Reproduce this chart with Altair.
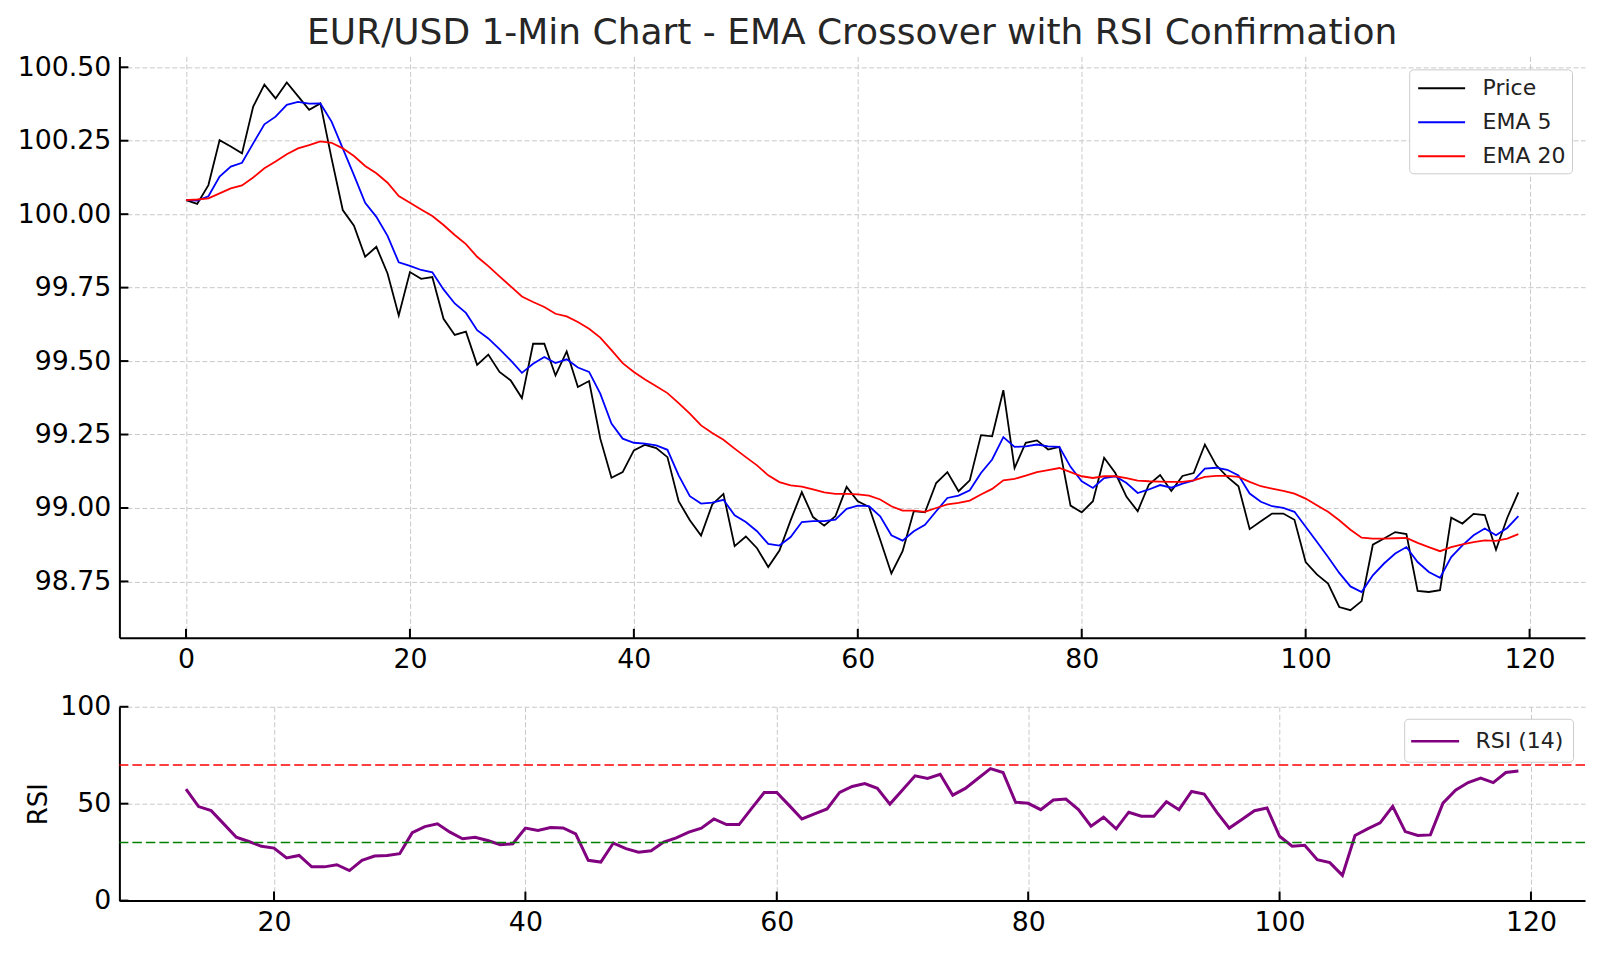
import altair as alt
import pandas as pd

# ---------------- data ----------------
idx = list(range(120))
price = [100.048, 100.035, 100.099, 100.252, 100.230, 100.207, 100.366, 100.441, 100.394, 100.448,
         100.402, 100.355, 100.377, 100.190, 100.014, 99.961, 99.855, 99.889, 99.798, 99.655,
         99.803, 99.780, 99.786, 99.644, 99.589, 99.600, 99.487, 99.522, 99.463, 99.434,
         99.374, 99.559, 99.559, 99.451, 99.533, 99.412, 99.432, 99.236, 99.103, 99.122,
         99.196, 99.215, 99.204, 99.173, 99.023, 98.958, 98.906, 99.012, 99.048, 98.870,
         98.903, 98.863, 98.799, 98.855, 98.958, 99.054, 98.969, 98.940, 98.972, 99.072,
         99.023, 99.004, 98.892, 98.777, 98.853, 98.989, 98.985, 99.085, 99.122, 99.057,
         99.094, 99.248, 99.244, 99.401, 99.136, 99.222, 99.230, 99.199, 99.208, 99.008,
         98.985, 99.023, 99.171, 99.119, 99.038, 98.989, 99.080, 99.112, 99.058, 99.109,
         99.119, 99.216, 99.146, 99.106, 99.074, 98.928, 98.955, 98.981, 98.981, 98.960,
         98.816, 98.774, 98.743, 98.663, 98.652, 98.683, 98.875, 98.896, 98.918, 98.911,
         98.718, 98.714, 98.720, 98.967, 98.947, 98.980, 98.976, 98.858, 98.966, 99.053]
ema5 = [100.048, 100.046, 100.061, 100.128, 100.162, 100.175, 100.241, 100.306, 100.332, 100.372,
        100.382, 100.376, 100.377, 100.315, 100.224, 100.133, 100.039, 99.991, 99.926, 99.836,
        99.824, 99.810, 99.802, 99.744, 99.696, 99.664, 99.605, 99.577, 99.541, 99.502,
        99.460, 99.491, 99.514, 99.493, 99.506, 99.478, 99.463, 99.389, 99.287, 99.236,
        99.222, 99.219, 99.213, 99.198, 99.111, 99.040, 99.015, 99.018, 99.028, 98.975,
        98.952, 98.921, 98.878, 98.872, 98.901, 98.952, 98.955, 98.955, 98.960, 98.997,
        99.008, 99.006, 98.972, 98.907, 98.889, 98.921, 98.943, 98.989, 99.034, 99.042,
        99.060, 99.119, 99.165, 99.241, 99.208, 99.210, 99.216, 99.210, 99.208, 99.140,
        99.091, 99.068, 99.102, 99.108, 99.085, 99.051, 99.063, 99.078, 99.069, 99.083,
        99.094, 99.134, 99.137, 99.130, 99.111, 99.049, 99.021, 99.006, 99.000, 98.987,
        98.936, 98.885, 98.833, 98.779, 98.733, 98.714, 98.771, 98.811, 98.845, 98.867,
        98.816, 98.782, 98.762, 98.833, 98.873, 98.907, 98.930, 98.907, 98.932, 98.972]
ema20 = [100.048, 100.050, 100.054, 100.071, 100.088, 100.098, 100.125, 100.156, 100.179, 100.204,
         100.224, 100.235, 100.248, 100.243, 100.224, 100.198, 100.164, 100.139, 100.107, 100.062,
         100.039, 100.016, 99.994, 99.963, 99.929, 99.898, 99.855, 99.823, 99.788, 99.754,
         99.720, 99.701, 99.684, 99.661, 99.652, 99.633, 99.610, 99.580, 99.537, 99.493,
         99.463, 99.437, 99.414, 99.391, 99.357, 99.321, 99.281, 99.255, 99.232, 99.202,
         99.173, 99.145, 99.111, 99.088, 99.077, 99.073, 99.063, 99.053, 99.048, 99.048,
         99.046, 99.042, 99.029, 99.006, 98.991, 98.991, 98.987, 99.000, 99.012, 99.017,
         99.025, 99.046, 99.065, 99.094, 99.099, 99.110, 99.122, 99.129, 99.136, 99.122,
         99.108, 99.102, 99.108, 99.108, 99.102, 99.093, 99.091, 99.090, 99.089, 99.089,
         99.094, 99.106, 99.109, 99.109, 99.106, 99.089, 99.074, 99.066, 99.058, 99.049,
         99.032, 99.009, 98.987, 98.958, 98.926, 98.899, 98.896, 98.896, 98.897, 98.898,
         98.881, 98.867, 98.853, 98.867, 98.876, 98.884, 98.890, 98.888, 98.896, 98.911]
rsi_idx = list(range(13, 120))
rsi = [57.5, 48.5, 46.4, 39.6, 32.7, 30.5, 28.0, 27.1, 22.0, 23.3,
       17.4, 17.4, 18.5, 15.5, 20.8, 23.0, 23.3, 24.2, 35.0, 38.2,
       39.6, 35.3, 31.9, 32.7, 31.0, 28.8, 29.3, 37.4, 36.2, 37.7,
       37.5, 34.4, 20.8, 19.9, 29.7, 26.8, 25.0, 25.7, 30.2, 32.4,
       35.3, 37.4, 42.1, 39.2, 39.2, 47.6, 55.8, 55.8, 49.0, 42.1,
       44.7, 47.3, 55.8, 58.9, 60.4, 57.9, 49.8, 57.0, 64.4, 63.0,
       65.2, 54.4, 57.9, 63.0, 68.1, 66.1, 50.7, 50.2, 46.9, 51.9,
       52.4, 47.0, 38.4, 43.0, 37.0, 45.6, 43.5, 43.5, 51.0, 46.9,
       56.3, 55.0, 45.6, 37.4, 41.8, 46.4, 47.8, 33.2, 28.1, 28.5,
       21.1, 19.6, 13.0, 33.6, 37.0, 40.1, 48.6, 35.6, 33.6, 33.9,
       50.3, 57.0, 60.9, 63.2, 60.9, 66.1, 66.9]

series_names = ["Price", "EMA 5", "EMA 20"]
series_colors = ["#000000", "#0000ff", "#ff0000"]
rsi_label = "RSI (14)"
overbought = [70]
oversold = [30]

x_ticks_top = [0, 20, 40, 60, 80, 100, 120]
y_ticks_top = [98.75, 99.0, 99.25, 99.5, 99.75, 100.0, 100.25, 100.5]
x_ticks_bot = [20, 40, 60, 80, 100, 120]
y_ticks_bot = [0, 50, 100]

title_text = "EUR/USD 1-Min Chart - EMA Crossover with RSI Confirmation"

# ---------------- layout / style ----------------
W = 1467
H1 = 582
H2 = 194
FONT = "DejaVu Sans"
TICK = 9
LEG_SYMBOL = "M-2,0H2"   # a long horizontal stroke for the legend entries

top_df = pd.DataFrame({
    "i": idx * 3,
    "v": price + ema5 + ema20,
    "series": [series_names[0]] * 120 + [series_names[1]] * 120 + [series_names[2]] * 120,
})
rsi_df = pd.DataFrame({"i": rsi_idx, "v": rsi, "lbl": [rsi_label] * len(rsi)})

x_top = alt.Scale(domain=[-5.95, 124.95], nice=False, zero=False)
y_top = alt.Scale(domain=[98.558, 100.537], nice=False, zero=False)
x_bot = alt.Scale(domain=[7.7, 124.3], nice=False, zero=False)
y_bot = alt.Scale(domain=[0, 100], nice=False)

color_top = alt.Color("series:N", scale=alt.Scale(domain=series_names, range=series_colors),
                      legend=alt.Legend(orient="top-right", title=None, symbolType=LEG_SYMBOL,
                                        symbolStrokeWidth=2, symbolSize=552, labelFontSize=22,
                                        labelFont=FONT, labelColor="#222222", strokeColor="#cccccc",
                                        fillColor="white", cornerRadius=4, padding=6, rowPadding=10,
                                        symbolOffset=13.5, offset=13, labelOffset=28))

line_layers = []
for k, name in enumerate(series_names):
    line_layers.append(
        alt.Chart(top_df).transform_filter(alt.datum.series == name).mark_line(strokeWidth=1.8).encode(
            x=alt.X("i:Q", scale=x_top,
                    axis=alt.Axis(values=x_ticks_top, format="d", title=None, labelFlush=False)),
            y=alt.Y("v:Q", scale=y_top,
                    axis=alt.Axis(values=y_ticks_top, format=".2f", title=None)),
            color=color_top,
        )
    )

xt_top = alt.Chart(pd.DataFrame({"i": x_ticks_top})).mark_rule(color="black", strokeWidth=2).encode(
    x=alt.X("i:Q", scale=x_top), y=alt.value(H1 - TICK), y2=alt.value(H1))
yt_top = alt.Chart(pd.DataFrame({"v": y_ticks_top})).mark_rule(color="black", strokeWidth=2).encode(
    y=alt.Y("v:Q", scale=y_top), x=alt.value(0), x2=alt.value(TICK))

top = alt.layer(*line_layers, xt_top, yt_top).properties(width=W, height=H1)

rsi_line = alt.Chart(rsi_df).mark_line(strokeWidth=3).encode(
    x=alt.X("i:Q", scale=x_bot, axis=alt.Axis(values=x_ticks_bot, format="d", title=None,
                                               labelFlush=False)),
    y=alt.Y("v:Q", scale=y_bot, axis=alt.Axis(values=y_ticks_bot, format="d", title="RSI",
                                               titleFontSize=26, titleFont=FONT, titleFontWeight="normal",
                                               titleColor="#000000", titlePadding=8)),
    color=alt.Color("lbl:N", scale=alt.Scale(domain=[rsi_label], range=["#800080"]),
                    legend=alt.Legend(orient="top-right", title=None, symbolType=LEG_SYMBOL,
                                      symbolStrokeWidth=2.5, symbolSize=576, labelFontSize=22,
                                      labelFont=FONT, labelColor="#222222", strokeColor="#cccccc",
                                      fillColor="white", cornerRadius=4, padding=9, symbolOffset=8.5,
                                      offset=12, labelOffset=27)),
)
ob = alt.Chart(pd.DataFrame({"v": overbought})).mark_rule(color="#ff0000", strokeWidth=1.5,
                                                          strokeDash=[9.5, 4]).encode(
    y=alt.Y("v:Q", scale=y_bot))
os_ = alt.Chart(pd.DataFrame({"v": oversold})).mark_rule(color="#008000", strokeWidth=1.5,
                                                         strokeDash=[9.5, 4]).encode(
    y=alt.Y("v:Q", scale=y_bot))
xt_bot = alt.Chart(pd.DataFrame({"i": x_ticks_bot})).mark_rule(color="black", strokeWidth=2).encode(
    x=alt.X("i:Q", scale=x_bot), y=alt.value(H2 - TICK), y2=alt.value(H2))
yt_bot = alt.Chart(pd.DataFrame({"v": y_ticks_bot})).mark_rule(color="black", strokeWidth=2).encode(
    y=alt.Y("v:Q", scale=y_bot), x=alt.value(0), x2=alt.value(TICK))

bottom = alt.layer(rsi_line, ob, os_, xt_bot, yt_bot).properties(width=W, height=H2)

chart = alt.vconcat(top, bottom, spacing=69, bounds="flush").resolve_scale(
    color="independent", x="independent", y="independent"
).properties(
    title=alt.TitleParams(text=title_text, fontSize=36, font=FONT, fontWeight="normal",
                          color="#262626", anchor="middle", frame="group", offset=-26.6,
                          baseline="alphabetic"),
    padding={"left": 8.5, "top": 6, "right": 5, "bottom": 5},
).configure_axis(
    grid=True, gridColor="#c8c8c8", gridDash=[5, 2.5], gridWidth=1,
    domainColor="#000000", domainWidth=2, ticks=False,
    labelFont=FONT, labelFontSize=26.8, labelColor="#000000", labelPadding=8.5,
).configure_view(stroke="transparent")

chart.save("out.html", embed_options={"renderer": "svg", "actions": False})
